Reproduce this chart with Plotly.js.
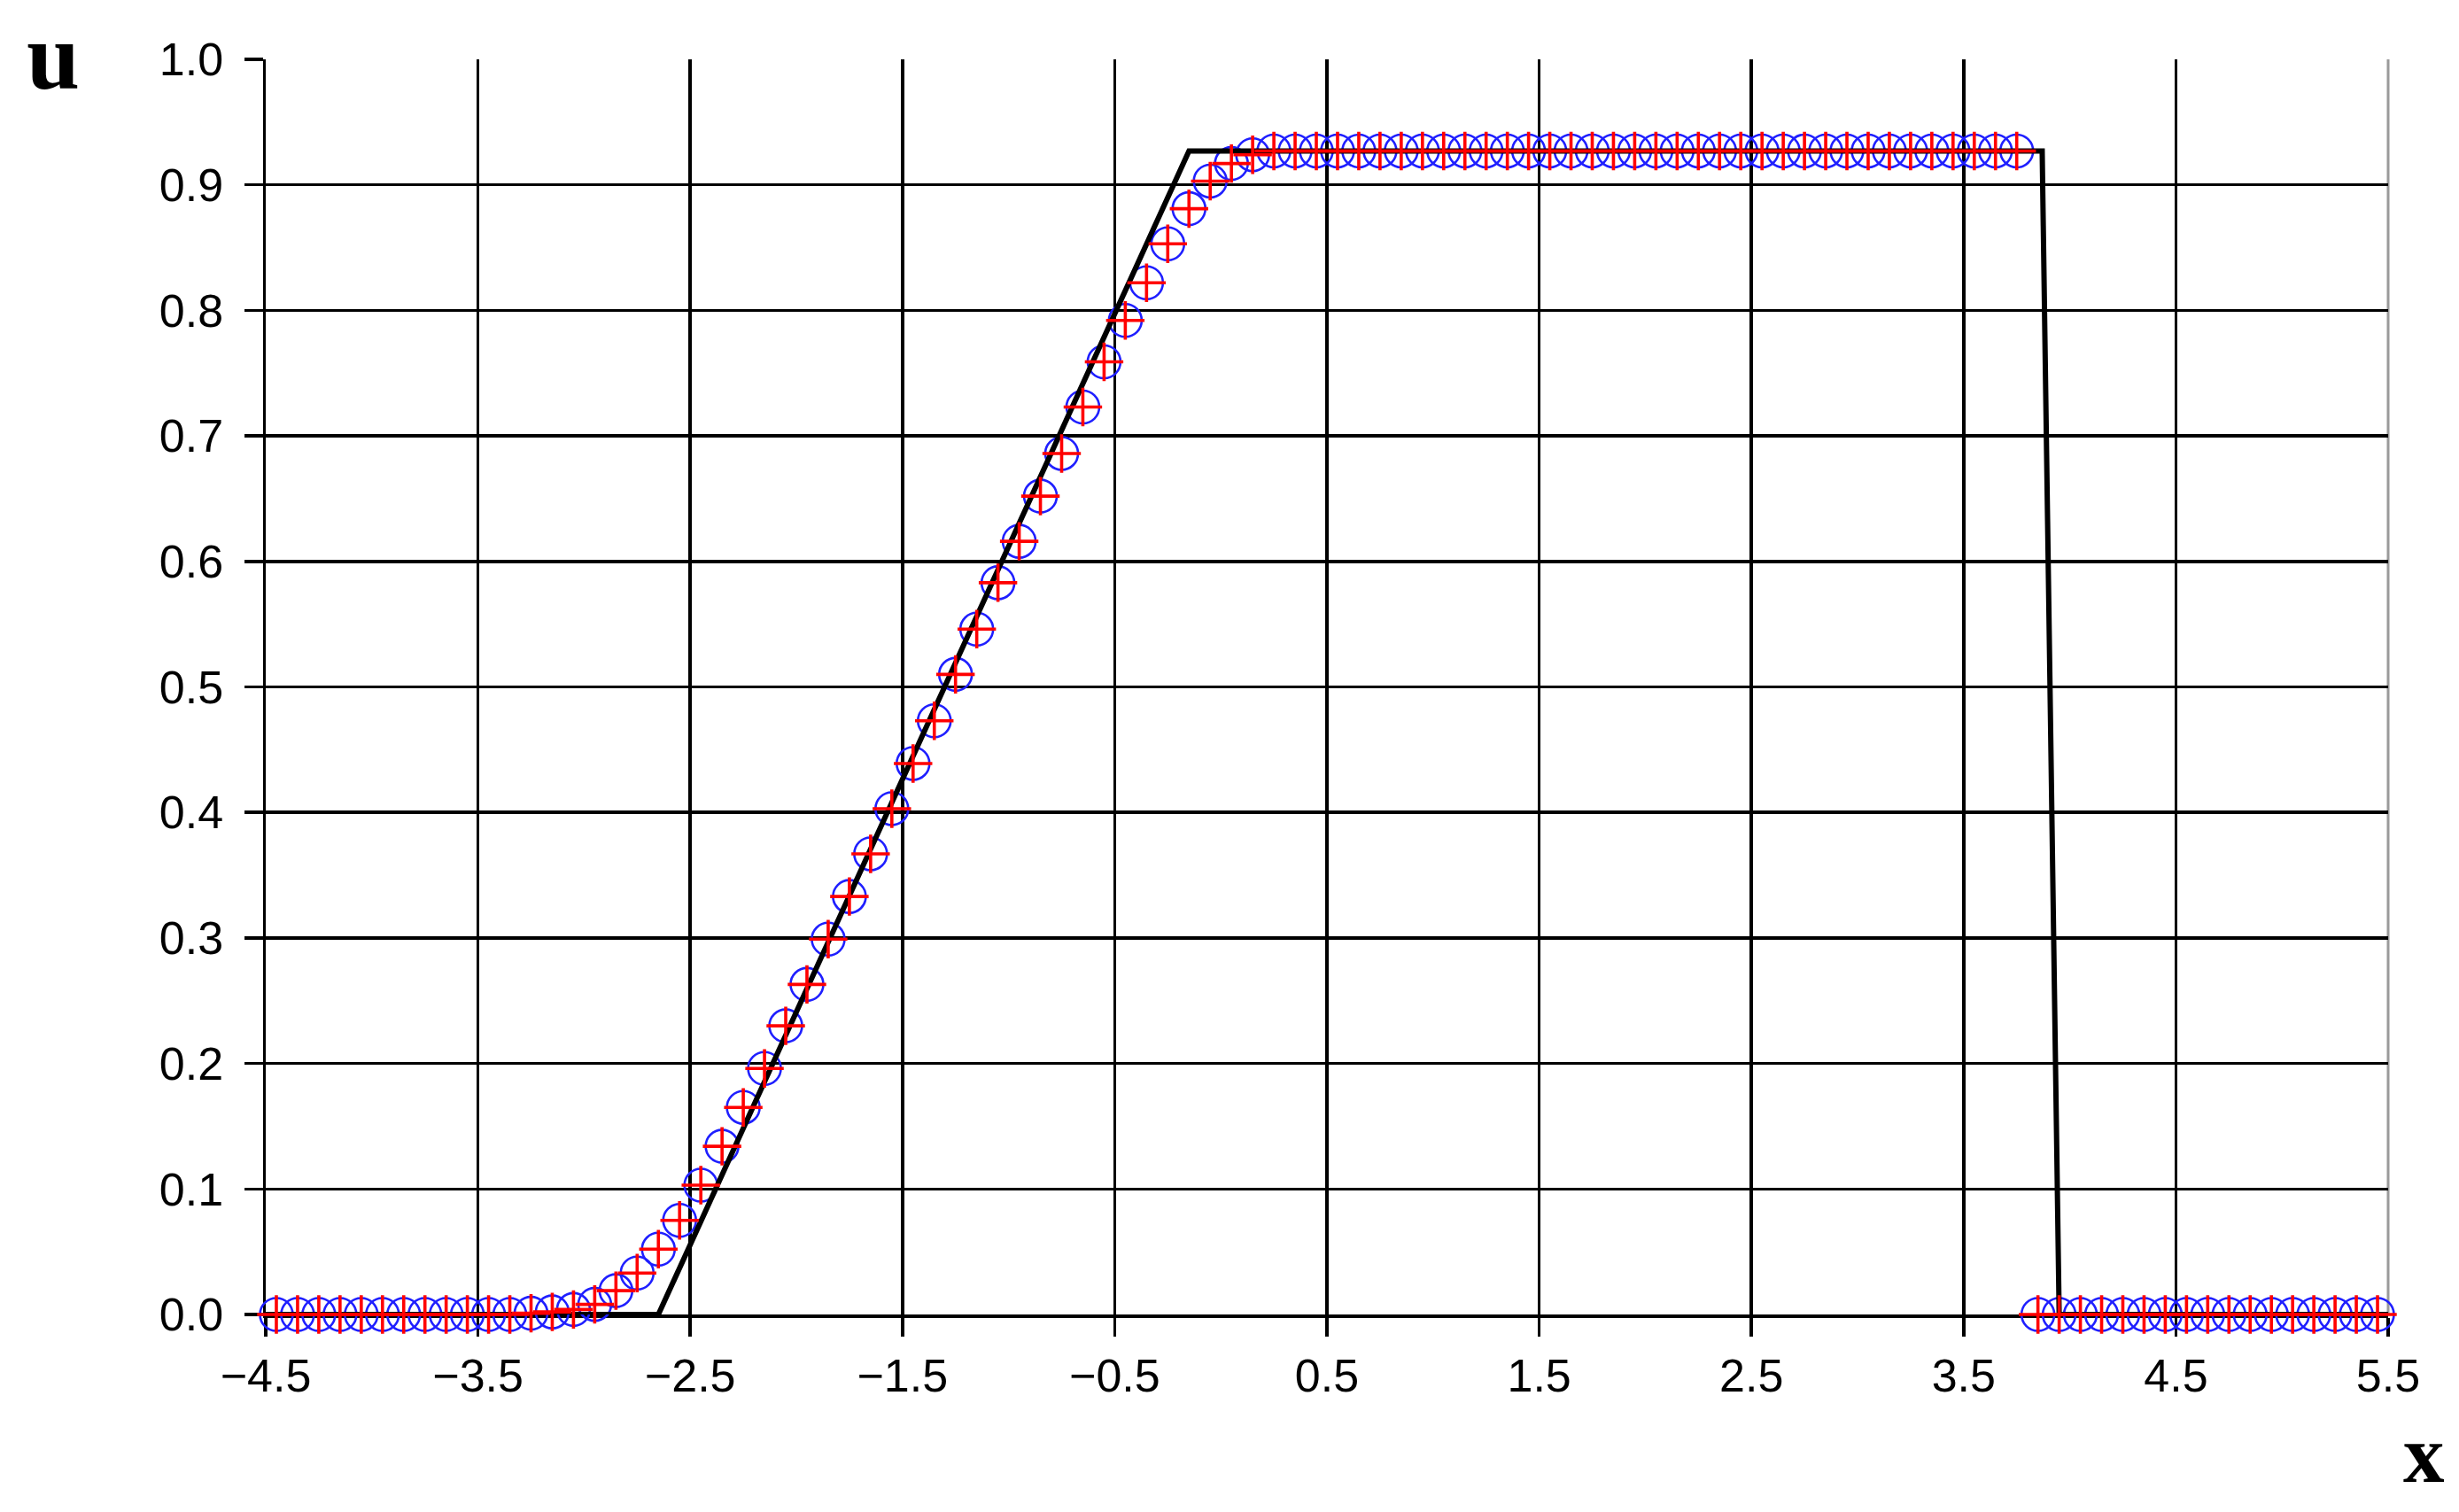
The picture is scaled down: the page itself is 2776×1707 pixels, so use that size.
<!DOCTYPE html>
<html>
<head>
<meta charset="utf-8">
<script src="https://cdn.plot.ly/plotly-3.0.1.min.js"></script>
<style>
  html, body { margin: 0; padding: 0; background: #ffffff; }
  #chart { width: 2776px; height: 1707px; }
</style>
</head>
<body>
<div id="chart"></div>
<script>
// Cell-centre positions of the numerical solutions
const xCells = [-4.45,-4.35,-4.25,-4.15,-4.05,-3.95,-3.85,-3.75,-3.65,-3.55,
  -3.45,-3.35,-3.25,-3.15,-3.05,-2.95,-2.85,-2.75,-2.65,-2.55,
  -2.45,-2.35,-2.25,-2.15,-2.05,-1.95,-1.85,-1.75,-1.65,-1.55,
  -1.45,-1.35,-1.25,-1.15,-1.05,-0.95,-0.85,-0.75,-0.65,-0.55,
  -0.45,-0.35,-0.25,-0.15,-0.05,0.05,0.15,0.25,0.35,0.45,
  0.55,0.65,0.75,0.85,0.95,1.05,1.15,1.25,1.35,1.45,
  1.55,1.65,1.75,1.85,1.95,2.05,2.15,2.25,2.35,2.45,
  2.55,2.65,2.75,2.85,2.95,3.05,3.15,3.25,3.35,3.45,
  3.55,3.65,3.75,3.85,3.95,4.05,4.15,4.25,4.35,4.45,
  4.55,4.65,4.75,4.85,4.95,5.05,5.15,5.25,5.35,5.45];

// Numerical solution shown with blue open circles
const uCircles = [0,0,0,0,0,0,0,0,0,0,
  0,0,0.001,0.002,0.004,0.008,0.019,0.033,0.052,0.075,
  0.103,0.134,0.165,0.196,0.230,0.263,0.299,0.333,0.367,0.403,
  0.439,0.473,0.510,0.546,0.583,0.616,0.652,0.686,0.723,0.759,
  0.792,0.822,0.853,0.881,0.903,0.917,0.924,0.927,0.927,0.927,
  0.927,0.927,0.927,0.927,0.927,0.927,0.927,0.927,0.927,0.927,
  0.927,0.927,0.927,0.927,0.927,0.927,0.927,0.927,0.927,0.927,
  0.927,0.927,0.927,0.927,0.927,0.927,0.927,0.927,0.927,0.927,
  0.927,0.927,0.927,0,0,0,0,0,0,0,
  0,0,0,0,0,0,0,0,0,0];

// Numerical solution shown with red crosses
const uCrosses = [0,0,0,0,0,0,0,0,0,0,
  0,0,0.001,0.002,0.004,0.008,0.019,0.033,0.052,0.075,
  0.103,0.134,0.165,0.196,0.230,0.263,0.299,0.333,0.367,0.403,
  0.439,0.473,0.510,0.546,0.583,0.616,0.652,0.686,0.723,0.759,
  0.792,0.822,0.853,0.881,0.903,0.917,0.924,0.927,0.927,0.927,
  0.927,0.927,0.927,0.927,0.927,0.927,0.927,0.927,0.927,0.927,
  0.927,0.927,0.927,0.927,0.927,0.927,0.927,0.927,0.927,0.927,
  0.927,0.927,0.927,0.927,0.927,0.927,0.927,0.927,0.927,0.927,
  0.927,0.927,0.927,0,0,0,0,0,0,0,
  0,0,0,0,0,0,0,0,0,0];

// Exact solution (black line)
const xExact = [-4.5, -2.65, -0.15, 3.87, 3.95, 5.5];
const uExact = [0, 0, 0.927, 0.927, 0, 0];

// Axis ticks
const xTicks = [-4.5, -3.5, -2.5, -1.5, -0.5, 0.5, 1.5, 2.5, 3.5, 4.5, 5.5];
const xTickText = ['\u22124.5','\u22123.5','\u22122.5','\u22121.5','\u22120.5','0.5','1.5','2.5','3.5','4.5','5.5'];
const yTicks = [0, 0.1, 0.2, 0.3, 0.4, 0.5, 0.6, 0.7, 0.8, 0.9, 1.0];
const yTickText = ['0.0','0.1','0.2','0.3','0.4','0.5','0.6','0.7','0.8','0.9','1.0'];

const traces = [
  {
    x: xCells, y: uCircles, type: 'scatter', mode: 'markers', cliponaxis: false,
    marker: { symbol: 'circle-open', size: 37, color: '#1f1fff', line: { width: 2.6, color: '#1f1fff' } },
    hoverinfo: 'skip'
  },
  {
    x: xExact, y: uExact, type: 'scatter', mode: 'lines', cliponaxis: false,
    line: { color: '#000000', width: 6 },
    hoverinfo: 'skip'
  },
  {
    x: xCells, y: uCrosses, type: 'scatter', mode: 'markers', cliponaxis: false,
    marker: { symbol: 'cross-thin-open', size: 31, color: '#ff0000', line: { width: 3.6, color: '#ff0000' } },
    hoverinfo: 'skip'
  }
];

const tickFont = { family: '"Liberation Sans", Arial, sans-serif', size: 52, color: '#000000' };

const layout = {
  width: 2776, height: 1707,
  paper_bgcolor: '#ffffff', plot_bgcolor: '#ffffff',
  showlegend: false,
  margin: { l: 300, r: 80, t: 67, b: 223, pad: 0 },
  xaxis: {
    range: [-4.5, 5.5], autorange: false,
    tickmode: 'array', tickvals: xTicks, ticktext: xTickText,
    showgrid: true, gridcolor: '#000000', gridwidth: 3.5,
    zeroline: false,
    showline: true, linecolor: '#000000', linewidth: 3.5,
    ticks: 'outside', ticklen: 21, tickwidth: 3.5, tickcolor: '#000000',
    tickfont: tickFont, layer: 'below traces',
    ticklabelstandoff: 0
  },
  yaxis: {
    range: [0, 1], autorange: false,
    tickmode: 'array', tickvals: yTicks, ticktext: yTickText,
    showgrid: true, gridcolor: '#000000', gridwidth: 3.5,
    zeroline: false,
    showline: true, linecolor: '#000000', linewidth: 3.5,
    ticks: 'outside', ticklen: 21, tickwidth: 3.5, tickcolor: '#000000',
    tickfont: tickFont, layer: 'below traces',
    ticklabelstandoff: 13
  },
  shapes: [
    { type: 'line', xref: 'paper', yref: 'paper', x0: 1, x1: 1, y0: 0, y1: 1,
      line: { color: '#9a9a9a', width: 3 }, layer: 'below' }
  ],
  annotations: [
    { text: '<b>u</b>', xref: 'paper', yref: 'paper', x: -0.1002, y: 1.0028,
      xanchor: 'center', yanchor: 'middle', showarrow: false,
      font: { family: '"Liberation Serif", "Times New Roman", serif', size: 108, color: '#000000' } },
    { text: '<b>x</b>', xref: 'paper', yref: 'paper', x: 1.0171, y: -0.1108,
      xanchor: 'center', yanchor: 'middle', showarrow: false,
      font: { family: '"Liberation Serif", "Times New Roman", serif', size: 93, color: '#000000' } }
  ]
};

Plotly.newPlot('chart', traces, layout, { displayModeBar: false, staticPlot: true });
</script>
</body>
</html>
